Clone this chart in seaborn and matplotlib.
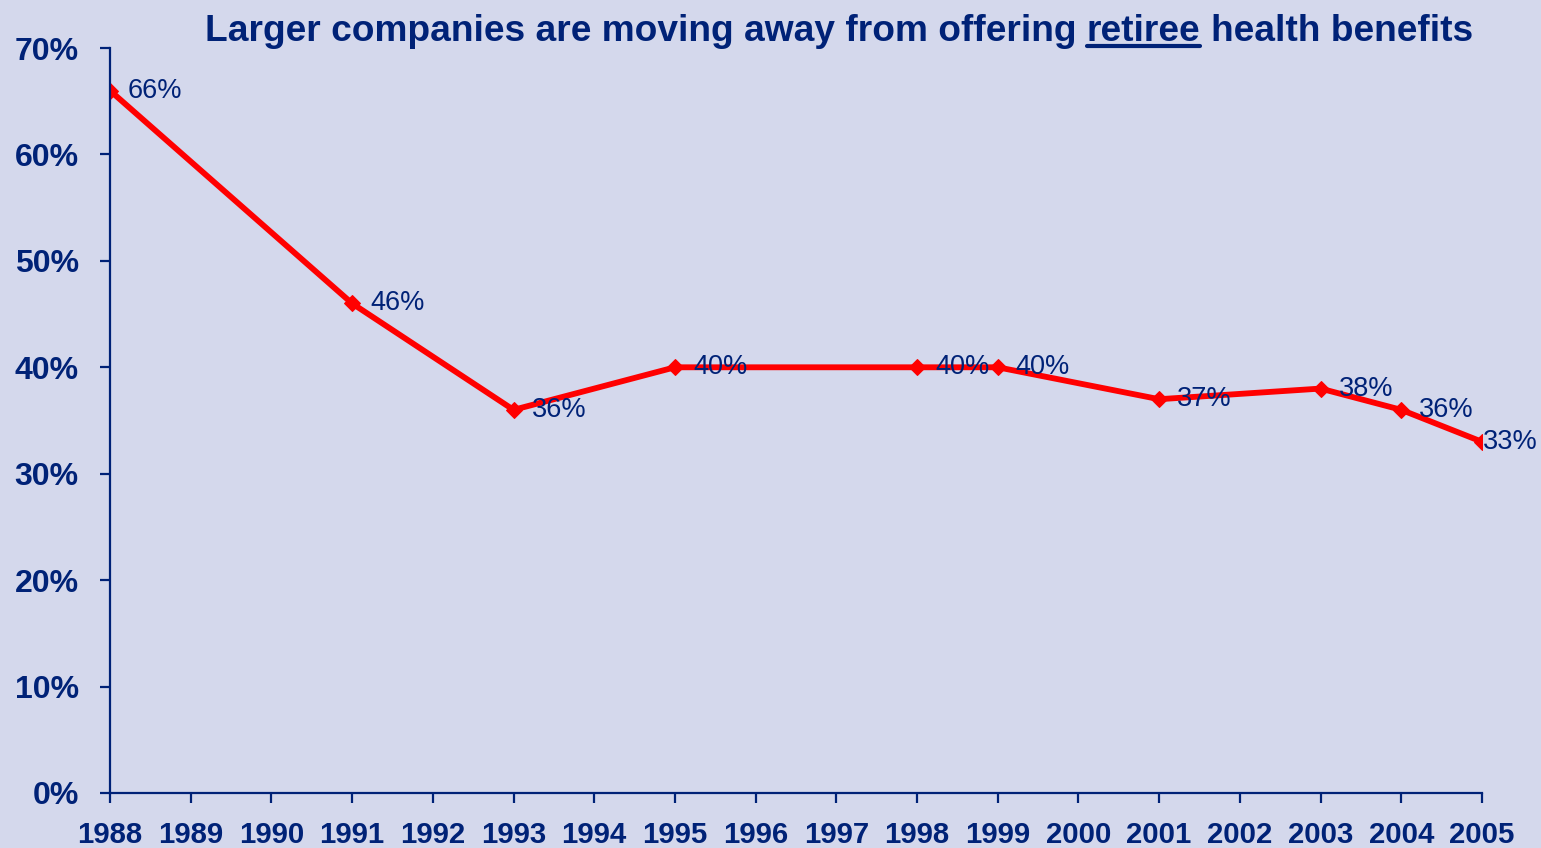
import matplotlib
matplotlib.use("Agg")
import matplotlib.pyplot as plt
import seaborn as sns
import pandas as pd
from matplotlib.lines import Line2D
from matplotlib.ticker import PercentFormatter
from matplotlib.transforms import IdentityTransform

years = [1988, 1991, 1993, 1995, 1998, 1999, 2001, 2003, 2004, 2005]
values = [66, 46, 36, 40, 40, 40, 37, 38, 36, 33]
tick_years = list(range(1988, 2006))
y_ticks = [0, 10, 20, 30, 40, 50, 60, 70]
title_parts = ["Larger companies are moving away from offering", "retiree", "health benefits"]

BG = "#D4D8EC"
NAVY = "#002277"
RED = "#FF0000"

sns.set_theme(style="white")
plt.rcParams["font.family"] = ["Liberation Sans", "DejaVu Sans"]

fig = plt.figure(figsize=(15.41, 8.48), dpi=100, facecolor=BG)
ax = fig.add_axes([110/1541, 1-793/848, (1482-110)/1541, (793-48)/848])
ax.set_facecolor(BG)

df = pd.DataFrame({"year": years, "pct": values})
sns.lineplot(data=df, x="year", y="pct", ax=ax, color=RED, linewidth=4.2,
             marker="D", markersize=8, markeredgecolor=RED, markerfacecolor=RED)

ax.set_xlim(1988, 2005)
ax.set_ylim(0, 70)
ax.set_xticks(tick_years)
ax.set_xticklabels([str(y) for y in tick_years])
ax.set_yticks(y_ticks)
ax.yaxis.set_major_formatter(PercentFormatter(decimals=0))
ax.set_xlabel("")
ax.set_ylabel("")

for s in ["top", "right"]:
    ax.spines[s].set_visible(False)
for s in ["left", "bottom"]:
    ax.spines[s].set_color(NAVY)
    ax.spines[s].set_linewidth(1.6)
    ax.spines[s].set_clip_on(False)

ax.tick_params(axis="both", which="major", direction="out", length=7, width=1.6,
               color=NAVY, labelcolor=NAVY, left=True, bottom=True)
ax.tick_params(axis="x", pad=13, labelsize=21.2)
ax.tick_params(axis="y", pad=15.5, labelsize=23)
for lab in ax.get_xticklabels() + ax.get_yticklabels():
    lab.set_fontweight("bold")

for i, (x, v) in enumerate(zip(years, values)):
    dx = 13 if i < len(years) - 1 else 1
    ax.annotate(f"{v}%", xy=(x, v), xytext=(dx, 0), textcoords="offset points",
                ha="left", va="center", fontsize=19.5, color=NAVY, annotation_clip=False)

# title in three parts with underlined middle word
fs = 26.7
space_px = 0.278 * fs * 100 / 72
t1 = fig.text(205/1541, 1-49/848, title_parts[0], fontsize=fs, fontweight="bold",
              color=NAVY, ha="left", va="bottom")
fig.canvas.draw()
r = fig.canvas.get_renderer()
b1 = t1.get_window_extent(r)
t2 = fig.text(b1.x1 + space_px, b1.y0, title_parts[1], fontsize=fs, fontweight="bold",
              color=NAVY, ha="left", va="bottom", transform=IdentityTransform())
fig.canvas.draw()
b2 = t2.get_window_extent(r)
t3 = fig.text(b2.x1 + space_px, b1.y0, title_parts[2], fontsize=fs, fontweight="bold",
              color=NAVY, ha="left", va="bottom", transform=IdentityTransform())
uy = b2.y0 + 3
fig.add_artist(Line2D([b2.x0, b2.x1], [uy, uy], color=NAVY, linewidth=3,
                      transform=IdentityTransform()))

fig.savefig("out.png", dpi=100, facecolor=BG)
